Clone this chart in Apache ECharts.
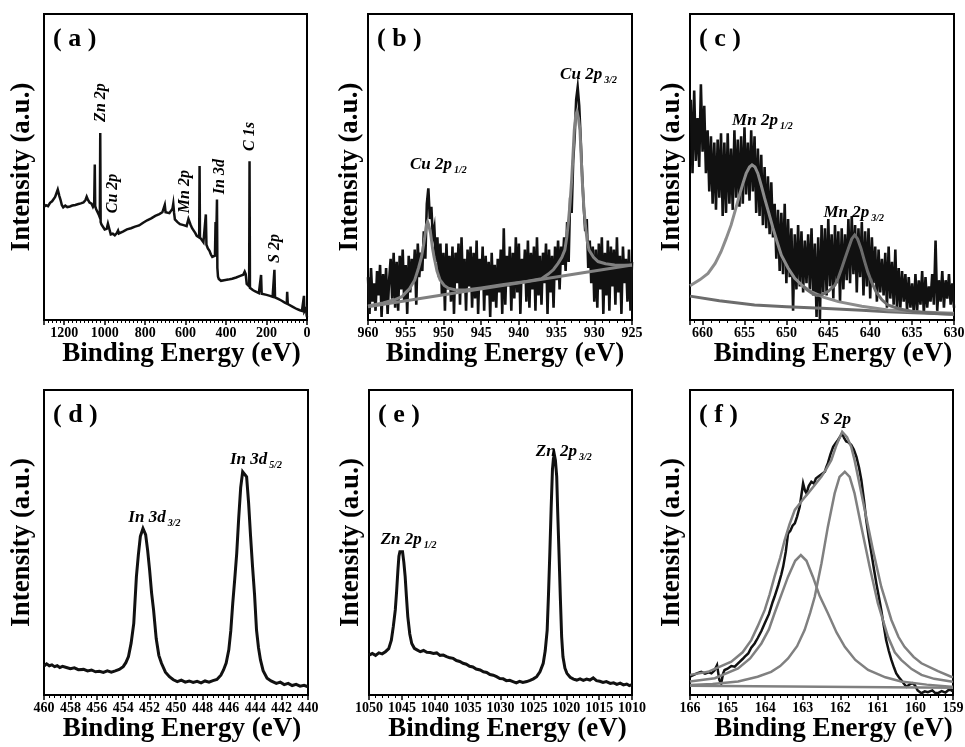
<!DOCTYPE html>
<html><head><meta charset="utf-8">
<script src="https://cdn.jsdelivr.net/npm/echarts/dist/echarts.min.js"></script>
<style>html,body{margin:0;padding:0;background:#fff}#c{width:965px;height:747px}</style>
</head><body><div id="c"></div><script>
// ---------- DATA ----------
// (a) survey spectrum  [binding energy eV, intensity a.u.]
const surveyA = [[1300,37.0],[1290,37.5],[1280,37.2],[1270,38.3],[1260,38.8],[1254,39.4],[1245,40.2],[1238,41.5],[1232,42.6],[1228,42.2],[1224,40.5],[1218,39.2],[1212,37.6],[1205,36.8],[1195,37.4],[1185,36.9],[1172,37.1],[1160,37.4],[1145,37.6],[1130,37.9],[1118,38.1],[1105,38.4],[1095,39.2],[1089,40.3],[1083,39.3],[1075,38.4],[1065,38.0],[1058,37.0],[1052,37.8],[1049,50.8],[1047,37.2],[1042,36.2],[1034,35.6],[1028,34.2],[1024,33.5],[1022,61.1],[1020,32.0],[1016,31.2],[1010,30.6],[1000,29.6],[990,29.8],[984,31.5],[980,31.8],[976,29.5],[970,28.0],[960,28.2],[950,27.7],[940,28.4],[934,29.2],[930,28.3],[910,28.9],[890,29.6],[870,30.0],[850,30.5],[830,30.9],[810,31.8],[790,32.6],[770,33.2],[750,34.0],[730,34.6],[715,35.2],[708,35.5],[703,37.6],[699,35.2],[690,34.6],[680,34.9],[672,35.4],[665,36.4],[661,38.0],[657,35.0],[653,32.9],[640,32.0],[628,31.3],[610,31.0],[595,30.7],[586,33.0],[582,33.4],[576,31.2],[568,30.0],[560,29.4],[552,28.4],[545,27.5],[538,27.2],[533,27.0],[531,50.3],[529,27.0],[521,26.4],[512,25.4],[504,25.0],[500,34.5],[497,24.6],[490,23.4],[482,22.6],[475,21.4],[468,20.6],[460,20.8],[455,21.0],[453,21.0],[452,32.0],[450,21.0],[447,20.5],[445,39.4],[443,17.0],[440,14.2],[436,13.4],[425,12.8],[410,13.0],[390,13.2],[370,13.5],[350,13.9],[330,14.4],[315,14.8],[308,15.8],[303,15.0],[298,11.8],[292,11.2],[286,11.0],[284,51.9],[282,10.5],[278,10.2],[268,9.8],[258,9.4],[249,9.0],[238,8.8],[230,8.6],[227,14.7],[224,8.6],[215,8.5],[200,8.2],[183,7.9],[170,7.6],[163,7.6],[161,16.4],[158,7.4],[150,7.0],[140,6.8],[125,6.3],[110,5.7],[100,5.4],[98,9.2],[95,5.2],[87,4.8],[70,4.3],[51,3.6],[35,3.2],[25,3.0],[17,3.2],[15,7.9],[13,2.8],[8,2.4],[4,3.8],[2,1.6],[0,1.0]];

// (b) Cu 2p raw counts on a 0.2 eV grid from 960 eV downward
const cuStart = 960, cuStep = -0.2;
const cuRaw = [14,2,17,6,12, 3,16,8,18,1, 15,5,17,2,13, 20,7,22,4,19, 3,21,10,23,6, 18,2,21,9,20, 12,23,5,25,14, 22,16,29,20,38, 43,33,37,27,30, 19,27,14,25,8, 22,3,25,10,21, 6,24,2,22,12, 25,5,27,9,20, 3,23,11,24,4, 22,7,26,2,20, 10,24,3,21,8, 19,1,22,6,18, 4,20,9,23,2, 30,5,21,11,24, 3,22,7,27,9, 25,2,20,12,23, 6,26,4,22,10, 24,3,27,8,21, 5,22,12,25,2, 23,9,21,4,24, 13,26,10,24,18, 27,16,32,19,40, 35,52,60,72,76, 70,59,47,37,29, 33,17,26,12,24, 6,23,4,25,10, 27,2,22,8,26, 3,24,11,23,5, 27,9,21,2,24, 12,20,6,23,3, 19];
const cuFit = [[960,4.6],[958,5.6],[956.5,6.6],[955.5,7.6],[955.1,8.7],[954.5,10.2],[953.8,13.1],[953.3,17.0],[952.9,20.7],[952.6,25.0],[952.4,28.3],[952.25,31.0],[952.1,32.1],[951.95,31.0],[951.7,28.3],[951.45,23.5],[951.25,20.7],[950.85,16.0],[950.45,13.1],[949.9,11.3],[949.35,10.4],[948.5,9.9],[947.1,9.8],[945,10.5],[942,11.6],[939,12.6],[937,13.5],[936.1,15.0],[935.4,16.5],[934.8,18.5],[934.3,20.5],[933.9,22.9],[933.65,27.0],[933.45,31.6],[933.2,38.5],[933.0,45.8],[932.8,55.0],[932.65,62.1],[932.45,67.0],[932.3,68.1],[932.1,66.0],[931.9,62.1],[931.75,54.0],[931.6,45.8],[931.4,37.5],[931.2,31.6],[930.95,26.0],[930.7,22.9],[930.1,20.5],[929.5,19.1],[928.5,18.4],[927.3,18.0],[926,17.9],[925,18.0]];
const cuBase = [[960,4.3],[925,18.0]];

// (c) Mn 2p raw counts on a 0.2 eV grid from 661.4 eV downward
const mnStart = 661.4, mnStep = -0.2;
const mnRaw = [72,48,75,52,66, 50,77,55,70,48, 62,42,60,38,58, 36,59,40,61,34, 58,35,61,38,56, 36,62,40,59,37, 60,38,63,41,58, 39,62,42,60,35, 56,34,54,31,50, 30,47,28,45,27, 38,20,36,16,35, 15,38,12,33,14, 30,3,28,10,31, 11,29,9,26,12, 28,10,30,8,25, 1,27,0,31,9, 30,8,33,11,28, 7,31,12,29,6, 30,10,28,13,33, 12,34,15,31,9, 30,14,32,8,29, 11,30,7,27,12, 24,6,23,9,20, 8,22,4,24,7, 19,5,23,3,17, 4,16,6,15,3, 14,4,12,2,15, 3,13,5,16,2, 14,4,11,6,15, 5,26,3,13,6, 16,4,13,7,15, 5,12,4];
const mnFit1 = [[661.5,11.2],[661.35,11.4],[660.3,13.2],[659.35,15.2],[658.5,18.5],[657.8,22.3],[657.2,26.5],[656.6,31.0],[656.1,35.8],[655.6,40.8],[655.2,44.5],[654.8,47.9],[654.4,50.0],[654.1,50.7],[653.75,50.0],[653.4,47.9],[653.0,44.0],[652.6,39.8],[652.1,35.0],[651.6,30.0],[651.1,25.5],[650.6,21.2],[649.8,17.0],[649.0,13.6],[648.0,11.0],[647.0,9.2],[645.5,7.4],[643.8,6.0],[641,4.5],[637.9,3.3],[634,2.6],[630,2.2]];
const mnFit2 = [[648.0,11.0],[647.5,9.8],[647.0,8.8],[646.4,8.0],[645.8,8.2],[645.0,9.4],[644.2,11.4],[643.8,13.8],[643.4,16.9],[643.0,20.2],[642.6,23.4],[642.2,26.5],[641.85,27.8],[641.5,26.5],[641.1,23.4],[640.7,19.5],[640.3,15.8],[639.8,12.2],[639.3,9.2],[638.6,6.6],[637.9,4.9],[636.5,3.6],[634.7,2.7],[632,2.1],[630,1.9]];
const mnBase = [[661.5,7.8],[661.35,7.6],[658,6.3],[653.8,4.9],[650,4.3],[645.8,3.8],[641,3.2],[637.9,2.7],[634,2.3],[630,1.9]];

// (d) In 3d
const inData = [[460,9.5],[459.8,10.2],[459.6,9.6],[459.4,9.9],[459.2,9.3],[459.0,9.6],[458.8,9.0],[458.6,9.4],[458.3,9.0],[458.0,8.6],[457.7,8.9],[457.4,8.3],[457.0,8.4],[456.7,7.9],[456.4,8.2],[456.1,7.6],[455.8,7.8],[455.5,7.4],[455.2,7.9],[454.9,7.5],[454.6,7.9],[454.3,8.4],[454.0,9.3],[453.8,10.6],[453.6,12.6],[453.4,17.0],[453.2,23.5],[453.0,38.8],[452.85,46.0],[452.7,52.0],[452.5,54.6],[452.3,52.6],[452.15,47.5],[452.0,41.0],[451.85,33.5],[451.7,27.9],[451.5,18.5],[451.3,13.0],[451.1,10.4],[450.8,7.5],[450.5,6.0],[450.2,5.0],[449.9,4.4],[449.6,4.9],[449.3,4.2],[449.0,4.6],[448.7,4.1],[448.4,4.5],[448.1,4.0],[447.8,4.6],[447.5,4.2],[447.2,4.7],[446.9,5.1],[446.6,6.5],[446.4,8.2],[446.2,10.5],[446.0,14.8],[445.85,21.0],[445.7,30.1],[445.55,38.0],[445.4,46.4],[445.25,58.0],[445.1,68.0],[444.95,73.2],[444.8,73.8],[444.65,71.5],[444.5,63.0],[444.35,52.0],[444.2,42.0],[444.05,33.0],[443.9,21.3],[443.75,15.5],[443.6,11.5],[443.4,8.0],[443.1,5.5],[442.8,4.6],[442.4,3.8],[442.1,4.2],[441.8,3.4],[441.5,3.8],[441.2,3.1],[440.9,3.5],[440.6,2.9],[440.3,3.2],[440.0,2.7]];

// (e) Zn 2p
const znData = [[1050,13.1],[1049.5,13.6],[1049,13.0],[1048.5,13.8],[1048,13.5],[1047.5,14.2],[1047,15.2],[1046.6,18.0],[1046.3,22.5],[1046,27.9],[1045.8,34.0],[1045.6,41.0],[1045.45,45.5],[1045.3,47.0],[1045.1,47.2],[1044.9,47.0],[1044.7,43.5],[1044.5,38.8],[1044.3,32.0],[1044.1,25.7],[1043.8,20.0],[1043.5,16.9],[1043.1,15.3],[1042.7,14.8],[1042.2,14.2],[1041.7,14.6],[1041.2,14.0],[1040.7,13.9],[1040.2,13.6],[1039.7,13.8],[1039.2,13.0],[1038.7,13.1],[1038.2,12.6],[1037.7,12.2],[1037.2,12.0],[1036.7,11.3],[1036.2,11.0],[1035.7,10.4],[1035.2,10.1],[1034.7,9.4],[1034.2,9.2],[1033.7,8.5],[1033.1,8.2],[1032.6,7.6],[1032.1,7.4],[1031.6,6.7],[1031.1,6.5],[1030.6,6.0],[1030.1,5.4],[1029.6,5.3],[1029.1,4.7],[1028.6,4.8],[1028.1,4.4],[1027.6,4.0],[1027.1,4.5],[1026.6,4.1],[1026.0,4.4],[1025.5,4.8],[1025.0,5.3],[1024.5,6.0],[1024.0,7.6],[1023.5,10.4],[1023.2,14.5],[1022.9,21.3],[1022.7,33.0],[1022.5,46.4],[1022.3,61.0],[1022.1,73.8],[1021.95,77.5],[1021.8,78.7],[1021.65,77.0],[1021.45,71.6],[1021.3,60.0],[1021.1,46.4],[1020.9,32.0],[1020.7,19.1],[1020.5,12.5],[1020.2,8.8],[1019.9,7.1],[1019.4,5.8],[1018.9,5.2],[1018.4,4.9],[1017.9,5.3],[1017.4,4.8],[1016.9,5.2],[1016.4,4.9],[1015.9,5.6],[1015.4,4.7],[1014.9,4.5],[1014.4,4.1],[1013.9,4.4],[1013.3,3.8],[1012.8,4.0],[1012.3,3.5],[1011.8,3.9],[1011.3,3.3],[1010.8,3.6],[1010.4,3.1],[1010,3.4]];

// (f) S 2p
const sData = [[166.0,6.0],[165.9,6.6],[165.8,7.2],[165.7,7.6],[165.6,7.0],[165.5,7.4],[165.43,7.1],[165.35,8.0],[165.28,9.8],[165.22,5.0],[165.17,3.8],[165.12,7.0],[165.08,8.2],[165.0,8.6],[164.9,9.5],[164.81,9.3],[164.7,10.6],[164.6,11.8],[164.54,12.6],[164.45,13.6],[164.37,15.5],[164.28,16.9],[164.2,18.6],[164.1,21.0],[164.01,23.5],[163.9,26.5],[163.8,30.5],[163.75,32.2],[163.65,36.0],[163.57,39.5],[163.52,42.1],[163.45,47.0],[163.39,53.0],[163.33,53.8],[163.27,55.5],[163.21,56.3],[163.15,58.5],[163.08,61.7],[163.03,66.0],[162.99,69.4],[162.94,67.0],[162.9,66.1],[162.84,68.5],[162.77,69.9],[162.7,69.3],[162.65,71.0],[162.59,71.6],[162.5,72.4],[162.41,73.2],[162.37,74.8],[162.33,76.0],[162.26,79.0],[162.19,81.4],[162.12,82.6],[162.06,83.6],[162.0,84.8],[161.95,85.8],[161.9,84.3],[161.84,83.1],[161.78,82.8],[161.71,82.0],[161.64,80.5],[161.57,78.1],[161.5,74.5],[161.44,70.5],[161.37,64.0],[161.31,57.4],[161.24,51.5],[161.17,46.4],[161.1,41.0],[161.04,36.6],[160.97,32.0],[160.91,27.9],[160.84,22.5],[160.78,18.0],[160.71,14.5],[160.64,11.5],[160.57,9.0],[160.51,7.1],[160.44,5.8],[160.38,4.9],[160.3,3.6],[160.24,2.7],[160.15,3.5],[160.08,3.9],[160.02,3.3],[159.94,1.5],[159.84,0.6],[159.75,1.2],[159.67,0.9],[159.55,1.5],[159.48,0.7],[159.4,0.6],[159.3,1.3],[159.2,0.8],[159.12,1.6],[159.05,1.6],[159.0,1.2]];
const sComp1 = [[166.0,3.3],[165.4,3.6],[164.72,4.4],[164.2,6.0],[163.84,7.6],[163.6,9.5],[163.39,12.0],[163.15,16.0],[162.95,21.3],[162.8,27.0],[162.68,32.2],[162.5,43.2],[162.33,55.2],[162.15,66.1],[162.02,71.5],[161.88,73.2],[161.75,71.5],[161.62,66.1],[161.44,55.2],[161.22,42.1],[161.0,30.1],[160.73,19.1],[160.55,14.0],[160.38,11.5],[160.1,8.5],[159.84,6.6],[159.5,5.3],[159.05,4.4],[159.0,4.3]];
const sComp2 = [[166.0,4.4],[165.34,5.5],[164.72,8.7],[164.4,12.0],[164.1,16.9],[163.9,21.5],[163.75,26.8],[163.55,33.5],[163.39,38.8],[163.2,44.0],[163.05,45.9],[162.9,44.0],[162.73,38.8],[162.55,32.5],[162.33,26.8],[162.1,20.5],[161.88,15.8],[161.6,11.5],[161.26,8.2],[160.8,5.8],[160.38,4.4],[159.7,3.4],[159.05,2.7],[159.0,2.7]];
const sEnvelope = [[166.0,6.6],[165.52,7.6],[164.9,10.9],[164.6,14.0],[164.37,18.0],[164.2,22.5],[164.01,27.9],[163.88,33.0],[163.75,38.8],[163.6,45.0],[163.48,50.8],[163.35,56.0],[163.21,60.7],[163.0,64.0],[162.86,66.1],[162.7,68.5],[162.5,71.6],[162.38,74.0],[162.24,77.0],[162.1,82.0],[161.95,86.3],[161.82,84.5],[161.71,81.4],[161.62,77.0],[161.53,71.6],[161.35,60.7],[161.13,47.5],[160.91,35.5],[160.64,24.6],[160.45,19.0],[160.29,15.8],[160.05,12.5],[159.84,10.4],[159.4,7.8],[159.05,6.0],[159.0,5.9]];
const sBase = [[166,3.0],[159,2.4]];

// axis ranges / ticks
const panelLetters = ['a','b','c','d','e','f'];
const xMin = [0, 925, 630, 440, 1010, 159];
const xMax = [1300, 960, 661.5, 460, 1050, 166];
const xStep = [200, 5, 5, 2, 5, 1];
const xMinorSplit = [10, 5, 5, 5, 5, 5];

// peak annotations [text, subscript, energy, intensity]
const labelsA = [['Zn 2p',1018,70.9],['Cu 2p',959,41.2],['Mn 2p',603,41.8],['In 3d',430,46.7],['C 1s',282,59.8],['S 2p',158,23.2]];
const labelsB = [['Cu 2p','1/2',950.6,50.7],['Cu 2p','3/2',930.7,80.1]];
const labelsC = [['Mn 2p','1/2',652.8,65.0],['Mn 2p','3/2',641.9,35.0]];
const labelsD = [['In 3d','3/2',451.6,58.0],['In 3d','5/2',443.9,77.0]];
const labelsE = [['Zn 2p','1/2',1043.9,50.8],['Zn 2p','3/2',1020.3,79.7]];
const labelsF = [['S 2p','',162.11,90.2]];

// ---------- CHART ----------
const SERIF = '"Liberation Serif","Times New Roman",serif';
const boxes = [
  {left:44, top:14, width:263, height:306},
  {left:368, top:14, width:264, height:306},
  {left:690, top:14, width:264, height:306},
  {left:44, top:390, width:264, height:305},
  {left:369, top:390, width:263, height:305},
  {left:690, top:390, width:263, height:305}
];
const yNameGap = [8, 4, 4, 8, 4, 4];
const xNamePad = [12, 10, 22, 12, 14, 24];

function onGrid(start, step, vals){ return vals.map((v,i)=>[Math.round((start+i*step)*100)/100, v]); }

const RICH = {
  m:{fontFamily:SERIF, fontStyle:'italic', fontWeight:'bold', fontSize:17, color:'#000', lineHeight:22, opacity:1},
  s:{fontFamily:SERIF, fontStyle:'italic', fontWeight:'bold', fontSize:10, color:'#000', verticalAlign:'bottom', lineHeight:12, padding:[0,0,0,2], opacity:1},
  v:{fontFamily:SERIF, fontStyle:'italic', fontWeight:'bold', fontSize:16, color:'#000', opacity:1}
};

const grid = boxes.map(b=>Object.assign({show:true, borderColor:'#000', borderWidth:2, backgroundColor:'transparent', containLabel:false, outerBoundsMode:'none'}, b));
const xAxis = boxes.map((b,i)=>({
  gridIndex:i, type:'value', inverse:true, min:xMin[i], max:xMax[i], interval:xStep[i],
  name:'Binding Energy (eV)', nameLocation:'middle', nameGap:19,
  nameTextStyle:{fontFamily:SERIF, fontWeight:'bold', fontSize:27, color:'#000', padding:[0,0,0,xNamePad[i]]},
  axisLine:{show:true, onZero:false, lineStyle:{color:'#000', width:2}},
  axisTick:{show:true, inside:false, length:5, lineStyle:{color:'#000', width:1.5}},
  minorTick:{show:true, splitNumber:xMinorSplit[i], length:3, lineStyle:{color:'#000', width:1}},
  axisLabel:{fontFamily:SERIF, fontWeight:'bold', fontSize:14, color:'#000', margin:6,
    showMaxLabel: (i===0||i===2)?false:true, formatter:(v)=>String(v)},
  splitLine:{show:false}, minorSplitLine:{show:false}
}));
const yAxis = boxes.map((b,i)=>({
  gridIndex:i, type:'value', min:0, max:100,
  name:'Intensity (a.u.)', nameLocation:'middle', nameGap:yNameGap[i], nameRotate:90,
  nameTextStyle:{fontFamily:SERIF, fontWeight:'bold', fontSize:27, color:'#000'},
  axisLine:{show:false}, axisTick:{show:false}, axisLabel:{show:false}, splitLine:{show:false}
}));

function line(i, data, color, width, z){
  return {type:'line', xAxisIndex:i, yAxisIndex:i, data:data, symbol:'none', showSymbol:false, smooth:false,
    lineStyle:{color:color, width:width, join:'miter'}, itemStyle:{color:color}, z:z||2, silent:true, animation:false, clip:true};
}
function labelCfg(fmt, rot){
  return {show:true, position:[0,0], align:'center', verticalAlign:'middle', rotate:rot||0,
    color:'#000', opacity:1, textBorderWidth:0, textShadowBlur:0, formatter:fmt, rich:RICH};
}
function annot(i, items){
  return {type:'scatter', xAxisIndex:i, yAxisIndex:i, symbolSize:1, itemStyle:{color:'#fff', opacity:0}, silent:true, z:20, animation:false,
    emphasis:{disabled:true},
    data: items.map(a=>({value:[a[2],a[3]], label:labelCfg('{m|'+a[0]+'}' + (a[1] ? '{s|'+a[1]+'}' : ''), 0)}))};
}
function annotRot(i, items){
  return {type:'scatter', xAxisIndex:i, yAxisIndex:i, symbolSize:1, itemStyle:{color:'#fff', opacity:0}, silent:true, z:20, animation:false,
    emphasis:{disabled:true},
    data: items.map(a=>({value:[a[1],a[2]], label:labelCfg('{v|'+a[0]+'}', 90)}))};
}

const BLACK = '#111', GRAY = '#808080', GRAY2 = '#6c6c6c';
const series = [
  line(0, surveyA, BLACK, 2.5),
  line(1, onGrid(cuStart, cuStep, cuRaw), BLACK, 2.6),
  line(1, cuBase, GRAY, 3, 3),
  line(1, cuFit, GRAY, 3, 3),
  line(2, onGrid(mnStart, mnStep, mnRaw), BLACK, 2.6),
  line(2, mnBase, GRAY2, 3, 3),
  line(2, mnFit1, '#8c8c8c', 3, 3),
  line(2, mnFit2, GRAY2, 3, 3),
  line(3, inData, BLACK, 3),
  line(4, znData, BLACK, 3),
  line(5, sData, BLACK, 2.5),
  line(5, sBase, GRAY, 2.5, 3),
  line(5, sComp2, GRAY, 2.5, 3),
  line(5, sComp1, GRAY, 2.5, 3),
  line(5, sEnvelope, GRAY, 2.5, 3),
  annotRot(0, labelsA),
  annot(1, labelsB), annot(2, labelsC), annot(3, labelsD), annot(4, labelsE), annot(5, labelsF)
];

const graphic = boxes.map((b,i)=>({type:'text', left:b.left+9, top:b.top+12,
  style:{text:'( '+panelLetters[i]+' )', font:'bold 26px '+SERIF, fill:'#000'}, z:30}));

const chart = echarts.init(document.getElementById('c'), null, {renderer:'canvas'});
chart.setOption({backgroundColor:'#fff', animation:false, grid, xAxis, yAxis, series, graphic});
</script></body></html>
